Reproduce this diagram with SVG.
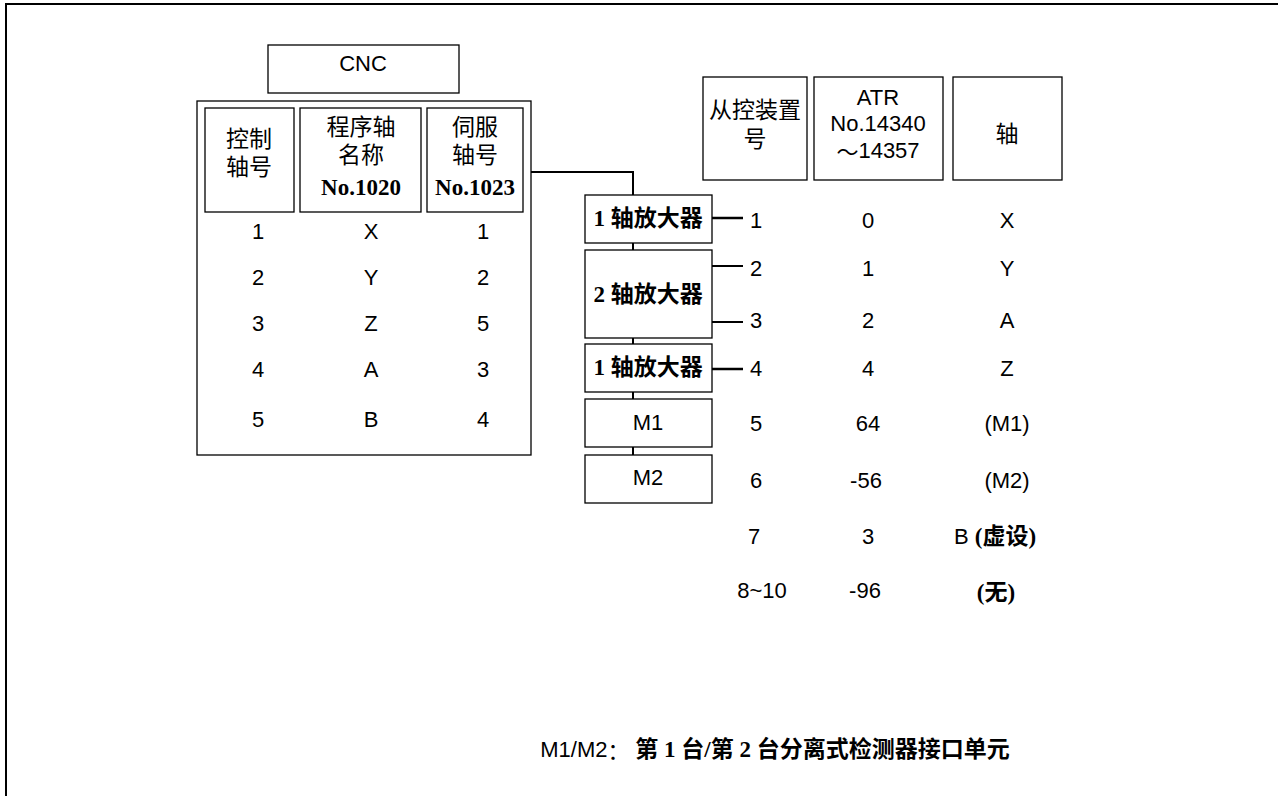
<svg xmlns="http://www.w3.org/2000/svg" width="1278" height="796" viewBox="0 0 1278 796">
<style>
.bx{fill:#fff;stroke:#000;stroke-width:1.3}
.ln{fill:none;stroke:#000;stroke-width:2}
.stub{fill:none;stroke:#000;stroke-width:2.6}
text{font-family:"Liberation Sans","Noto Sans CJK SC",sans-serif;font-size:22px;fill:#000;text-anchor:middle;dominant-baseline:central}
.cj{font-family:"Noto Sans CJK SC",sans-serif;font-size:23px}
.amp{font-family:"Liberation Serif","Noto Sans CJK SC",serif;font-weight:bold;font-size:23px}
.sb{font-family:"Liberation Serif","Noto Sans CJK SC",serif;font-weight:bold;font-size:23px}
</style>
<rect x="0" y="0" width="1278" height="796" fill="#fff"/>
<path d="M6,796 V4 H1278" fill="none" stroke="#000" stroke-width="2"/>

<g id="cnc">
<rect class="bx" x="268" y="45" width="191" height="48"/>
<text x="363" y="63">CNC</text>
</g>

<g id="cnc-table">
<rect class="bx" x="197" y="101" width="334" height="354"/>
<rect class="bx" x="205" y="108" width="89" height="104"/>
<rect class="bx" x="300" y="108" width="121" height="104"/>
<rect class="bx" x="427" y="108" width="96" height="104"/>
<text class="cj" x="249" y="137">控制</text>
<text class="cj" x="249" y="165">轴号</text>
<text class="cj" x="361" y="125">程序轴</text>
<text class="cj" x="361" y="153">名称</text>
<text class="sb" x="361" y="187">No.1020</text>
<text class="cj" x="475" y="125">伺服</text>
<text class="cj" x="475" y="153">轴号</text>
<text class="sb" x="475" y="187">No.1023</text>
<text x="258" y="231">1</text><text x="371" y="231">X</text><text x="483" y="231">1</text>
<text x="258" y="277">2</text><text x="371" y="277">Y</text><text x="483" y="277">2</text>
<text x="258" y="323">3</text><text x="371" y="323">Z</text><text x="483" y="323">5</text>
<text x="258" y="369">4</text><text x="371" y="369">A</text><text x="483" y="369">3</text>
<text x="258" y="419">5</text><text x="371" y="419">B</text><text x="483" y="419">4</text>
</g>

<g id="connectors">
<path class="ln" d="M531,172 H633 V195"/>
<path class="ln" d="M633,243 V250 M633,338 V344 M633,392 V399 M633,447 V455"/>
<path class="stub" d="M712,218 H743 M712,369 H743"/>
<path class="ln" d="M712,266 H743 M712,322 H743"/>
</g>

<g id="amp1">
<rect class="bx" x="585" y="195" width="127" height="48"/>
<text class="amp" x="648" y="218">1 轴放大器</text>
</g>
<g id="amp2">
<rect class="bx" x="585" y="250" width="127" height="88"/>
<text class="amp" x="648" y="294">2 轴放大器</text>
</g>
<g id="amp3">
<rect class="bx" x="585" y="344" width="127" height="48"/>
<text class="amp" x="648" y="367">1 轴放大器</text>
</g>
<g id="m1">
<rect class="bx" x="585" y="399" width="127" height="48"/>
<text x="648" y="422">M1</text>
</g>
<g id="m2">
<rect class="bx" x="585" y="455" width="127" height="48"/>
<text x="648" y="477">M2</text>
</g>

<g id="right-table">
<rect class="bx" x="703" y="77" width="104" height="103"/>
<rect class="bx" x="814" y="77" width="129" height="103"/>
<rect class="bx" x="953" y="77" width="109" height="103"/>
<text class="cj" x="755" y="108">从控装置</text>
<text class="cj" x="755" y="137">号</text>
<text x="878" y="97">ATR</text>
<text x="878" y="123">No.14340</text>
<text x="878" y="150"><tspan font-family="Noto Sans CJK SC">～</tspan>14357</text>
<text class="cj" x="1007" y="132">轴</text>

<text x="756" y="220">1</text><text x="868" y="220">0</text><text x="1007" y="220">X</text>
<text x="756" y="268">2</text><text x="868" y="268">1</text><text x="1007" y="268">Y</text>
<text x="756" y="320">3</text><text x="868" y="320">2</text><text x="1007" y="320">A</text>
<text x="756" y="368">4</text><text x="868" y="368">4</text><text x="1007" y="368">Z</text>
<text x="756" y="423">5</text><text x="868" y="423">64</text><text x="1007" y="423">(M1)</text>
<text x="756" y="480">6</text><text x="866" y="480">-56</text><text x="1007" y="480">(M2)</text>
<text x="754" y="536">7</text><text x="868" y="536">3</text>
<text x="995" y="536">B <tspan class="sb">(虚设)</tspan></text>
<text x="762" y="590">8~10</text><text x="865" y="590">-96</text>
<text class="sb" x="996" y="592">(无)</text>
</g>

<g id="note">
<text x="775" y="749">M1/M2<tspan font-family="Noto Sans CJK SC">：</tspan><tspan class="sb"> 第 1 台/第 2 台分离式检测器接口单元</tspan></text>
</g>
</svg>
